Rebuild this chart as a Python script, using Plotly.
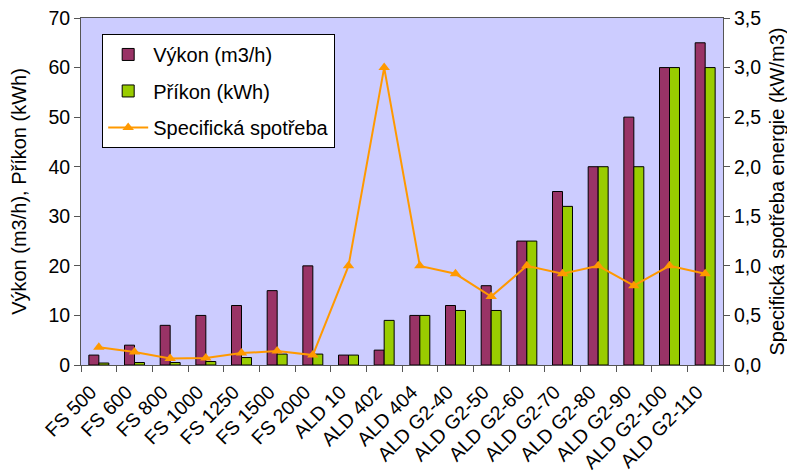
import plotly.graph_objects as go

categories = ["FS 500", "FS 600", "FS 800", "FS 1000", "FS 1250", "FS 1500", "FS 2000",
              "ALD 10", "ALD 402", "ALD 404", "ALD G2-40", "ALD G2-50", "ALD G2-60",
              "ALD G2-70", "ALD G2-80", "ALD G2-90", "ALD G2-100", "ALD G2-110"]
vykon = [2, 4, 8, 10, 12, 15, 20, 2, 3, 10, 12, 16, 25, 35, 40, 50, 60, 65]
prikon = [0.4, 0.5, 0.5, 0.7, 1.5, 2.2, 2.2, 2, 9, 10, 11, 11, 25, 32, 40, 40, 60, 60]
spec = [0.18, 0.13, 0.065, 0.07, 0.12, 0.14, 0.1, 1.0, 3.0, 1.0, 0.92, 0.69, 1.0,
        0.92, 1.0, 0.8, 1.0, 0.92]

font = "Liberation Sans, Arial, sans-serif"
FS = 19.5

fig = go.Figure()
fig.add_trace(go.Bar(x=categories, y=vykon, name="Výkon (m3/h)",
                     marker=dict(color="#993366", line=dict(color="black", width=1)),
                     legendgroup="a"))
fig.add_trace(go.Bar(x=categories, y=prikon, name="Příkon (kWh)",
                     marker=dict(color="#99CC00", line=dict(color="black", width=1)),
                     legendgroup="b"))
fig.add_trace(go.Scatter(x=categories, y=spec, name="Specifická spotřeba", yaxis="y2",
                         mode="lines+markers",
                         line=dict(color="#FF9900", width=2),
                         marker=dict(symbol="triangle-up", size=10, color="#FF9900"),
                         legendgroup="c"))

fig.update_layout(
    width=795, height=472,
    margin=dict(l=73, r=80, t=10, b=115),
    paper_bgcolor="white", plot_bgcolor="#CCCCFF",
    font=dict(family=font, size=FS, color="black"),
    separators=", ",
    barmode="group", bargap=0.44, bargroupgap=0,
    showlegend=True,
    legend=dict(x=0.033, y=0.954, xanchor="left", yanchor="top",
                bgcolor="white", bordercolor="black", borderwidth=1,
                font=dict(family=font, size=20),
                traceorder="grouped", tracegroupgap=7.5,
                itemwidth=40),
    xaxis=dict(type="category", range=[-0.5, len(categories) - 0.5],
               tickangle=-45, tickson="boundaries",
               ticks="outside", ticklen=6, tickcolor="#555",
               ticklabelshift=-8, ticklabelstandoff=7,
               showline=True, linecolor="#555", mirror=True, linewidth=1,
               showgrid=False, tickfont=dict(size=FS), automargin=False),
    yaxis=dict(range=[0, 70], dtick=10, ticks="outside", ticklen=6, tickcolor="#555",
               showline=True, linecolor="#555", linewidth=1, showgrid=False,
               zeroline=False, tickformat="d", automargin=False, ticklabeloverflow="allow",
               title=dict(text="Výkon (m3/h), Příkon (kWh)", font=dict(size=20), standoff=16)),
    yaxis2=dict(range=[0, 3.5], dtick=0.5, overlaying="y", side="right",
                ticks="outside", ticklen=6, tickcolor="#555",
                showline=True, linecolor="#555", linewidth=1, showgrid=False,
                zeroline=False, tickformat=".1f", automargin=False, ticklabeloverflow="allow",
                title=dict(text="Specifická spotřeba energie (kW/m3)", font=dict(size=20), standoff=9)),
)

fig.write_html("out.html")
